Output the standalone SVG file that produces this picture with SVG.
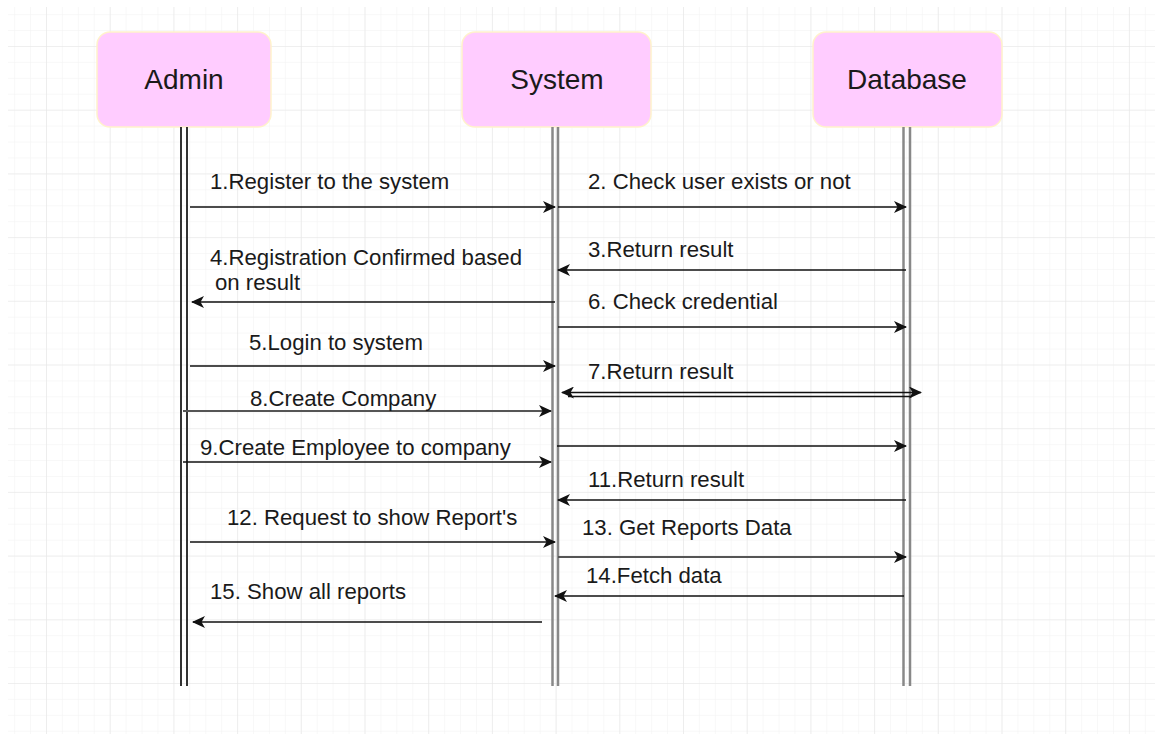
<svg xmlns="http://www.w3.org/2000/svg" width="1155" height="734" viewBox="0 0 1155 734">
  <defs>
    <pattern id="minor" x="-0.8" y="-0.8" width="15.925" height="15.925" patternUnits="userSpaceOnUse">
      <path d="M15.925 0 V15.925 M0 15.925 H15.925" fill="none" stroke="#f2f2f2" stroke-width="1"/>
    </pattern>
    <pattern id="major" x="-16.7" y="-16.7" width="63.7" height="63.7" patternUnits="userSpaceOnUse">
      <path d="M63.7 0 V63.7 M0 63.7 H63.7" fill="none" stroke="#e6e6e6" stroke-width="1.2"/>
    </pattern>
    <marker id="arr" viewBox="0 0 13 12" refX="12" refY="6" markerWidth="13" markerHeight="12" markerUnits="userSpaceOnUse" orient="auto-start-reverse">
      <path d="M0,0 L13,6 L0,12 L3.5,6 z" fill="#111"/>
    </marker>
  </defs>
  <style>
    .node rect { fill: #ffccff; stroke: #fff2cc; stroke-width: 1.5; }
    .node text { font-family: "Liberation Sans", Arial, sans-serif; font-size: 28px; fill: #1a1a1a; text-anchor: middle; }
    .life-dark line { stroke: #333; stroke-width: 2; }
    .life-gray line { stroke: #888; stroke-width: 2.5; }
    .msg { stroke: #111; stroke-width: 1.6; fill: none; }
    .msg-gray { stroke: #555; stroke-width: 2.2; fill: none; }
    .lbl { font-family: "Liberation Sans", Arial, sans-serif; font-size: 22.2px; fill: #1a1a1a; }
  </style>

  <rect width="1155" height="734" fill="#ffffff"/>
  <rect x="8" y="7" width="1147" height="727" fill="url(#minor)"/>
  <rect x="8" y="7" width="1147" height="727" fill="url(#major)"/>

  <!-- participants -->
  <g id="admin" class="node">
    <rect x="97" y="32" width="174" height="95" rx="13"/>
    <text x="184" y="89">Admin</text>
  </g>
  <g id="system" class="node">
    <rect x="462" y="32" width="189" height="95" rx="13"/>
    <text x="557" y="89">System</text>
  </g>
  <g id="database" class="node">
    <rect x="813" y="32" width="189" height="95" rx="13"/>
    <text x="907" y="89">Database</text>
  </g>

  <!-- lifelines -->
  <g id="lifelines">
    <g class="life-dark">
      <line x1="181" y1="127" x2="181" y2="686"/>
      <line x1="187" y1="127" x2="187" y2="686"/>
    </g>
    <g class="life-gray">
      <line x1="552.5" y1="127" x2="552.5" y2="686"/>
      <line x1="558" y1="127" x2="558" y2="686"/>
    </g>
    <g class="life-gray">
      <line x1="903.5" y1="127" x2="903.5" y2="686"/>
      <line x1="910" y1="127" x2="910" y2="686"/>
    </g>
  </g>

  <!-- messages -->
  <g id="connectors">
    <line class="msg" x1="190" y1="207" x2="555" y2="207" marker-end="url(#arr)"/>
    <line class="msg" x1="558" y1="207" x2="906" y2="207" marker-end="url(#arr)"/>
    <line class="msg" x1="906" y1="270" x2="558" y2="270" marker-end="url(#arr)"/>
    <line class="msg" x1="555" y1="302" x2="192" y2="302" marker-end="url(#arr)"/>
    <line class="msg" x1="558" y1="327" x2="906" y2="327" marker-end="url(#arr)"/>
    <line class="msg" x1="190" y1="366" x2="555" y2="366" marker-end="url(#arr)"/>
    <line class="msg" x1="562" y1="392.5" x2="921" y2="392.5" marker-end="url(#arr)" marker-start="url(#arr)"/>
    <line class="msg" x1="568" y1="396.5" x2="912" y2="396.5"/>
    <line class="msg-gray" x1="183" y1="411" x2="551" y2="411" marker-end="url(#arr)"/>
    <line class="msg" x1="557" y1="446" x2="906" y2="446" marker-end="url(#arr)"/>
    <line class="msg" x1="183" y1="462" x2="551" y2="462" marker-end="url(#arr)"/>
    <line class="msg" x1="906" y1="500" x2="558" y2="500" marker-end="url(#arr)"/>
    <line class="msg" x1="190" y1="542" x2="555" y2="542" marker-end="url(#arr)"/>
    <line class="msg-gray" x1="558" y1="557" x2="906" y2="557" marker-end="url(#arr)"/>
    <line class="msg" x1="904" y1="596" x2="555" y2="596" marker-end="url(#arr)"/>
    <line class="msg" x1="542" y1="622" x2="193" y2="622" marker-end="url(#arr)"/>
  </g>

  <!-- message labels -->
  <g id="labels" class="lbl">
    <text x="210" y="189">1.Register to the system</text>
    <text x="588" y="189">2. Check user exists or not</text>
    <text x="588" y="257">3.Return result</text>
    <text x="210" y="265">4.Registration Confirmed based</text>
    <text x="215" y="290">on result</text>
    <text x="588" y="309">6. Check credential</text>
    <text x="249" y="350">5.Login to system</text>
    <text x="588" y="379">7.Return result</text>
    <text x="250" y="406">8.Create Company</text>
    <text x="200" y="455">9.Create Employee to company</text>
    <text x="588" y="487">11.Return result</text>
    <text x="227" y="525">12. Request to show Report's</text>
    <text x="582" y="535">13. Get Reports Data</text>
    <text x="586" y="583">14.Fetch data</text>
    <text x="210" y="599">15. Show all reports</text>
  </g>
</svg>
